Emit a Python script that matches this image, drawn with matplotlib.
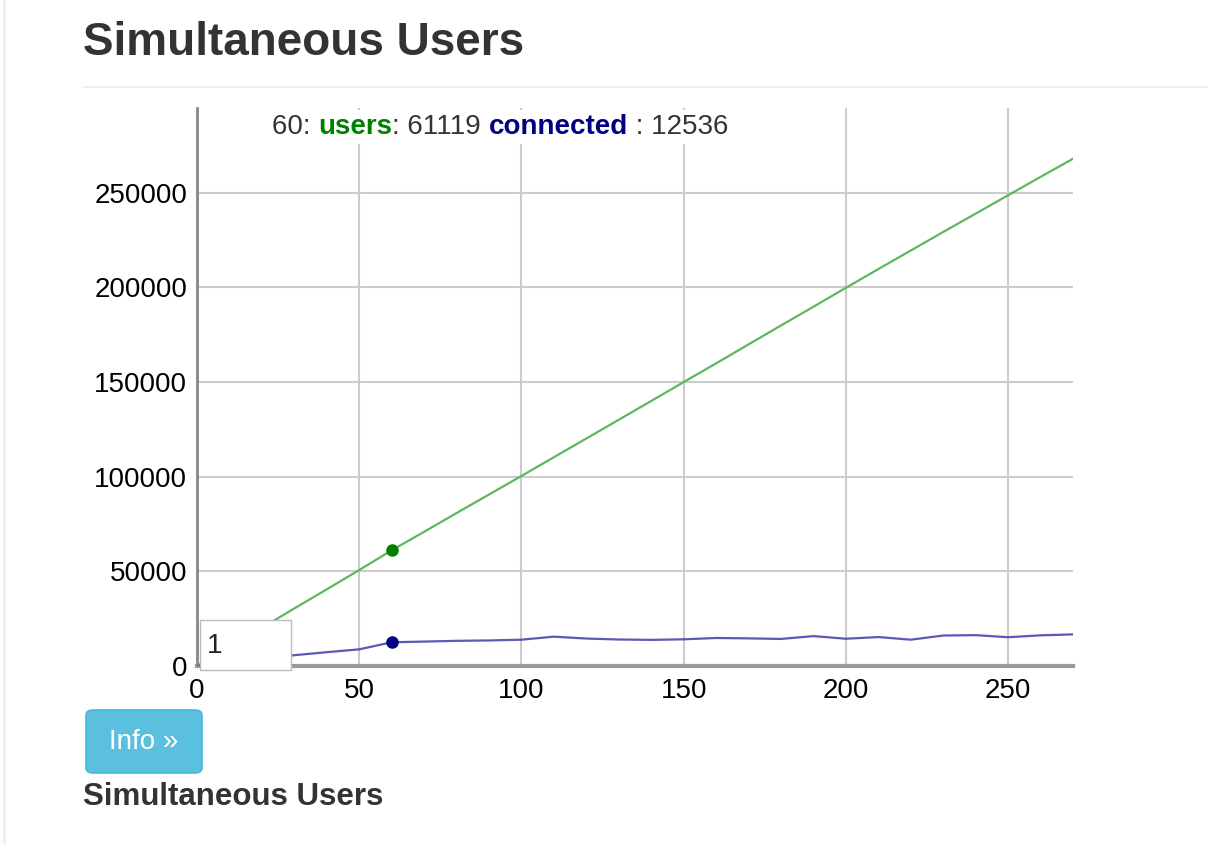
import matplotlib
matplotlib.use("Agg")
import matplotlib.pyplot as plt
from matplotlib.patches import FancyBboxPatch, Rectangle
from matplotlib.lines import Line2D

plt.rcParams['font.family'] = ['Liberation Sans', 'DejaVu Sans']

# data
seconds = [0, 10, 20, 30, 40, 50, 60, 70, 80, 90, 100, 110, 120, 130, 140,
           150, 160, 170, 180, 190, 200, 210, 220, 230, 240, 250, 260, 270]
users = [0, 10100, 20200, 30400, 40500, 50700, 61119, 70900, 80800, 90600,
         100400, 110300, 120200, 130100, 140000, 150000, 159900, 169900,
         179900, 189800, 199800, 209700, 219500, 229300, 239000, 248700,
         258400, 268000]
connected = [0, 1800, 3800, 5700, 7300, 8800, 12536, 12900, 13300, 13500,
             13900, 15500, 14500, 14000, 13800, 14100, 14800, 14600, 14300,
             15800, 14400, 15300, 13900, 16100, 16300, 15200, 16200, 16700]
x_ticks = [0, 50, 100, 150, 200, 250]
y_ticks = [0, 50000, 100000, 150000, 200000, 250000]
hover_idx = 6

W, H = 1208, 844
fig = plt.figure(figsize=(W / 100, H / 100), dpi=100)
fig.patch.set_facecolor('white')

def fx(px): return px / W
def fy(py): return 1 - py / H

# page decorations (heading, rule, left border)
fig.text(fx(83), fy(43), 'Simultaneous Users', fontsize=33, fontweight='bold',
         color='#333333', va='center', ha='left')
fig.add_artist(Line2D([fx(84), 1], [fy(87), fy(87)], color='#eeeeee', lw=1.5,
                      transform=fig.transFigure))
fig.add_artist(Line2D([fx(4), fx(4)], [0, 1], color='#eeeeee', lw=2,
                      transform=fig.transFigure))

ax = fig.add_axes([fx(197), fy(666), fx(1073) - fx(197), fy(108) - fy(666)])
ax.plot(seconds, users, color='#5cb85c', lw=1.6, zorder=3)
ax.plot(seconds, connected, color='#4848b0', lw=1.6, alpha=0.9, zorder=3)
ax.plot(seconds[hover_idx], users[hover_idx], 'o', color='#008000', ms=8, zorder=4)
ax.plot(seconds[hover_idx], connected[hover_idx], 'o', color='#000080', ms=8, zorder=4)

ax.set_xlim(0, 270)
ax.set_ylim(0, max(users) * 1.1)
ax.set_xticks(x_ticks)
ax.set_yticks(y_ticks)
ax.grid(True, color='#cccccc', lw=1.5)
ax.set_axisbelow(True)
ax.tick_params(length=0, labelsize=20, colors='black')
ax.tick_params(axis='y', pad=7)
ax.tick_params(axis='x', pad=9)
for s in ['top', 'right']:
    ax.spines[s].set_visible(False)
ax.spines['left'].set_color('#888888')
ax.spines['left'].set_linewidth(2)
ax.spines['bottom'].set_color('#999999')
ax.spines['bottom'].set_linewidth(3)

# hover legend text with mixed colours, on a white strip
ax.add_patch(Rectangle((fx(262), fy(144)), fx(746) - fx(262), fy(110) - fy(144),
                       transform=fig.transFigure, facecolor='white',
                       edgecolor='none', zorder=5, clip_on=False))
prev = ax.text(fx(272), fy(127), f'{seconds[hover_idx]}: ', fontsize=20,
               color='#333333', va='center', transform=fig.transFigure, zorder=6)
parts = [('users', '#008000', 'bold'), (f': {users[hover_idx]} ', '#333333', 'normal'),
         ('connected', '#000080', 'bold'), (f' : {connected[hover_idx]}', '#333333', 'normal')]
for txt, col, wt in parts:
    prev = ax.annotate(txt, xy=(1, 0), xycoords=prev, va='bottom', ha='left',
                       fontsize=20, color=col, fontweight=wt,
                       annotation_clip=False, zorder=6)

# input box overlay
fig.add_artist(Rectangle((fx(200), fy(670)), fx(291) - fx(200), fy(620) - fy(670),
                         transform=fig.transFigure, facecolor='white',
                         edgecolor='#bbbbbb', lw=1, zorder=10))
fig.text(fx(207), fy(646), '1', fontsize=20, color='#222222', va='center', zorder=11)

# info button
fig.add_artist(FancyBboxPatch((fx(86), fy(773)), fx(202) - fx(86), fy(710) - fy(773),
                              boxstyle='round,pad=0,rounding_size=0.006',
                              transform=fig.transFigure, facecolor='#5bc0de',
                              edgecolor='#46b8da', lw=1.2))
fig.text(fx(144), fy(742), 'Info »', fontsize=20, color='white', ha='center', va='center')

fig.text(fx(83), fy(797), 'Simultaneous Users', fontsize=22.5, fontweight='bold',
         color='#333333', va='center', ha='left')

fig.savefig('out.png', dpi=100)
